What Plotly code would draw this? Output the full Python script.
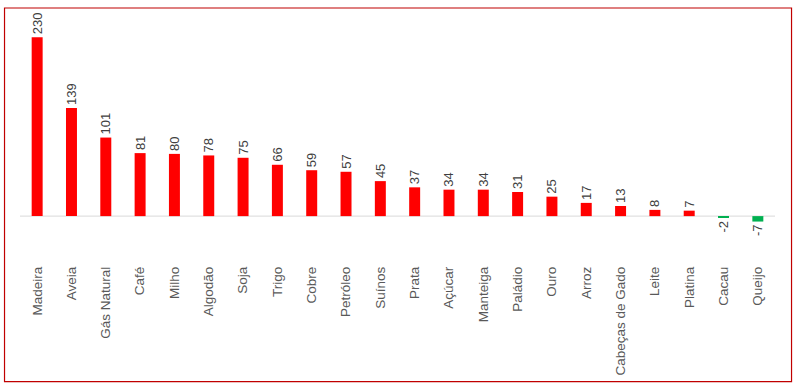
import plotly.graph_objects as go

categories = ["Madeira", "Aveia", "Gás Natural", "Café", "Milho", "Algodão", "Soja", "Trigo",
              "Cobre", "Petróleo", "Suínos", "Prata", "Açúcar", "Manteiga", "Paládio", "Ouro",
              "Arroz", "Cabeças de Gado", "Leite", "Platina", "Cacau", "Queijo"]
values = [230, 139, 101, 81, 80, 78, 75, 66, 59, 57, 45, 37, 34, 34, 31, 25, 17, 13, 8, 7, -2, -7]

RED = "#FF0000"
GREEN = "#00B050"
colors = [RED if v >= 0 else GREEN for v in values]

FONT = "Liberation Sans, Arial, sans-serif"

fig = go.Figure(go.Bar(
    x=categories, y=values,
    marker=dict(color=colors, line=dict(width=0)),
    text=[str(v) for v in values],
    textposition="outside",
    textangle=-90,
    constraintext="none",
    cliponaxis=False,
    textfont=dict(family=FONT, size=13, color="#404040"),
))

fig.update_layout(
    width=796, height=387,
    margin=dict(l=20, r=21, t=10, b=132),
    paper_bgcolor="white", plot_bgcolor="white",
    bargap=0.68,
    showlegend=False,
    xaxis=dict(tickangle=-90, showgrid=False, showline=False, ticks="",
               ticklabelstandoff=8,
               tickfont=dict(family=FONT, size=13.5, color="#595959")),
    yaxis=dict(range=[-50, 265], visible=False, showgrid=False, zeroline=False),
    shapes=[
        dict(type="line", xref="paper", yref="y", x0=0, x1=1, y0=0, y1=0,
             line=dict(color="#D9D9D9", width=1), layer="below"),
        dict(type="rect", xref="paper", yref="paper",
             x0=-0.0205, x1=1.0219, y0=-0.517, y1=1.0082,
             line=dict(color="#C00000", width=1.2), fillcolor="rgba(0,0,0,0)"),
    ],
)

fig.write_html("out.html", config={"displayModeBar": False},
               post_script="document.body.style.margin='0';document.body.style.overflow='hidden';")
